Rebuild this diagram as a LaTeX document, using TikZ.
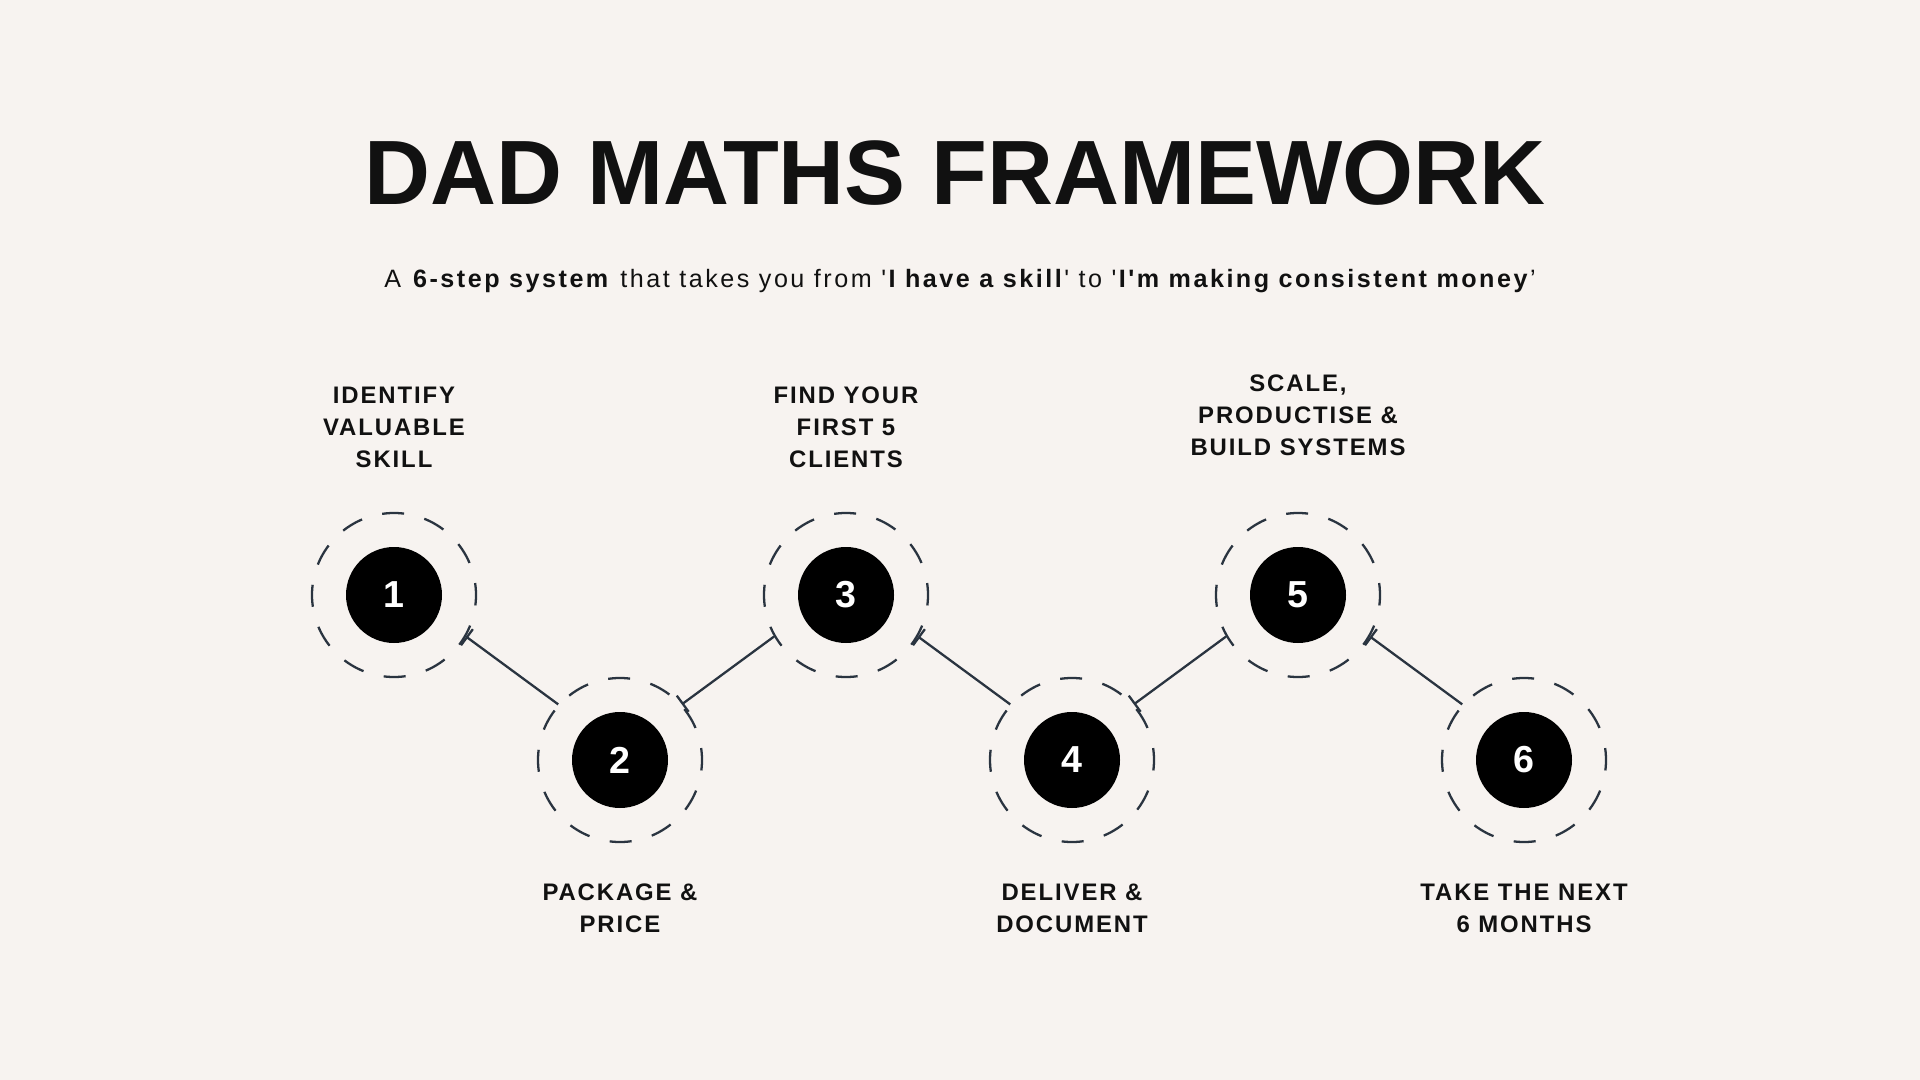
\documentclass[tikz,border=0pt]{standalone}
\usepackage{fontspec}
\setmainfont{Liberation Sans}
\newfontfamily\titlefont{Liberation Sans}
\newfontfamily\subfont[LetterSpace=10]{Liberation Sans}
\newfontfamily\lblfont[LetterSpace=8]{Liberation Sans}
\usepackage{xcolor}
\usetikzlibrary{arrows.meta,positioning}

\definecolor{paper}{HTML}{F7F3F0}
\definecolor{ink}{HTML}{111111}
\definecolor{slate}{HTML}{2A3440}

\begin{document}
\begin{tikzpicture}[
    on grid,
    dot/.style={circle, fill=black, text=white, minimum size=9.6mm, inner sep=0pt,
      font=\bfseries\fontsize{10.7}{12}\selectfont},
    ring/.style={circle, draw=slate, line width=0.65pt, minimum size=16.4mm, inner sep=0pt,
      dash pattern=on 2.2mm off 2.09mm, dash phase=1mm},
    lbl/.style={align=center, inner sep=0pt, outer sep=0pt, text=ink,
      font=\lblfont\bfseries\fontsize{6.8}{9.1}\selectfont},
    link/.style={{Bar[width=2mm]}-, draw=slate, line width=0.65pt}
  ]
    \fill[paper] (0,0) rectangle (19.2,-10.8);
    \useasboundingbox (0,0) rectangle (19.2,-10.8);

    % heading
    \node[anchor=base, text=ink, font=\titlefont\bfseries\fontsize{26}{30}\selectfont]
      (title) at (9.55,-2.05) {DAD MATHS FRAMEWORK};
    \node[anchor=base, text=ink, font=\subfont\fontsize{7.15}{9}\selectfont]
      (sub) at (9.6,-2.88) {A \textbf{6-step system} that takes you from '\textbf{I have a skill}' to '\textbf{I'm making consistent money}’};

    % steps
    \node[dot] (d1) at (3.94,-5.95) {1};
    \node[dot, below right=1.65cm and 2.26cm of d1] (d2) {2};
    \node[dot, above right=1.65cm and 2.26cm of d2] (d3) {3};
    \node[dot, below right=1.65cm and 2.26cm of d3] (d4) {4};
    \node[dot, above right=1.65cm and 2.26cm of d4] (d5) {5};
    \node[dot, below right=1.65cm and 2.26cm of d5] (d6) {6};

    \node[ring] (r1) at (d1) {};
    \node[ring] (r2) at (d2) {};
    \node[ring] (r3) at (d3) {};
    \node[ring] (r4) at (d4) {};
    \node[ring] (r5) at (d5) {};
    \node[ring] (r6) at (d6) {};

    \draw[link] (r1.-30) -- (r2.138);
    \draw[link] (r2.42) -- (r3.210);
    \draw[link] (r3.-30) -- (r4.138);
    \draw[link] (r4.42) -- (r5.210);
    \draw[link] (r5.-30) -- (r6.138);

    % labels
    \node[lbl, anchor=south] (t1) at ([yshift=4.45mm]r1.north) {IDENTIFY\\VALUABLE\\SKILL};
    \node[lbl, anchor=north] (t2) at ([yshift=-4.05mm]r2.south) {PACKAGE \&\\PRICE};
    \node[lbl, anchor=south] (t3) at ([yshift=4.45mm]r3.north) {FIND YOUR\\FIRST 5\\CLIENTS};
    \node[lbl, anchor=north] (t4) at ([yshift=-4.05mm]r4.south) {DELIVER \&\\DOCUMENT};
    \node[lbl, anchor=south] (t5) at ([yshift=5.65mm]r5.north) {SCALE,\\PRODUCTISE \&\\BUILD SYSTEMS};
    \node[lbl, anchor=north] (t6) at ([yshift=-4.05mm]r6.south) {TAKE THE NEXT\\6 MONTHS};
\end{tikzpicture}
\end{document}
